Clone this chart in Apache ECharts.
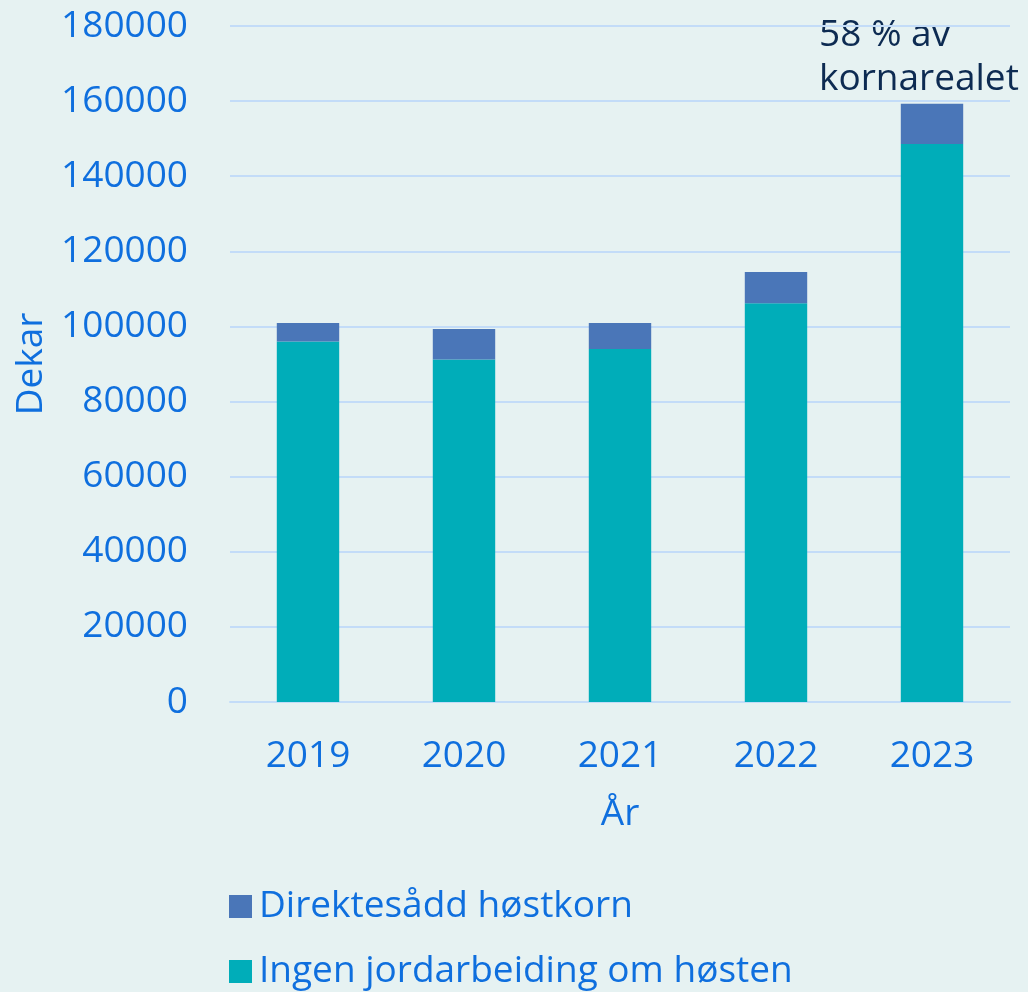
<!DOCTYPE html>
<html>
<head>
<meta charset="utf-8">
<script src="https://cdn.jsdelivr.net/npm/echarts@6/dist/echarts.min.js"></script>
<style>
  html, body { margin: 0; padding: 0; background: #e6f2f2; }
  #chart { width: 1028px; height: 992px; }
</style>
</head>
<body>
<div id="chart"></div>
<script>
  // år og verdier (dekar), lest av figuren
  var years = ['2019', '2020', '2021', '2022', '2023'];
  var ingenJord = [96000, 91200, 94000, 106200, 148600];
  var direkte = [4900, 8100, 6900, 8300, 10700];
  var yTicks = { min: 0, max: 180000, step: 20000 };

  var blue = '#0f6fde';
  var font = '"Open Sans", "Noto Sans", sans-serif';
  var fs = 37;

  // felles stil for de to legenderadene
  function legendRow(name, top) {
    return {
      orient: 'vertical',
      left: 224,
      top: top,
      itemWidth: 23,
      itemHeight: 23,
      icon: 'rect',
      data: [name],
      textStyle: { color: blue, fontSize: fs, fontFamily: font, padding: [0, 0, 0, 2] }
    };
  }

  var myChart = echarts.init(document.getElementById('chart'));
  myChart.setOption({
    backgroundColor: '#e6f2f2',
    textStyle: { fontFamily: font },
    grid: { left: 230, right: 18, top: 26, bottom: 290 },
    legend: [
      legendRow('Direktesådd høstkorn', 883),
      legendRow('Ingen jordarbeiding om høsten', 948)
    ],
    xAxis: {
      type: 'category',
      data: years,
      name: 'År',
      nameLocation: 'middle',
      nameGap: 94,
      nameTextStyle: { color: blue, fontSize: fs, fontFamily: font },
      axisLine: { lineStyle: { color: '#c3dcf8', width: 2 } },
      axisTick: { show: false },
      axisLabel: { color: blue, fontSize: fs, margin: 36, fontFamily: font }
    },
    yAxis: {
      type: 'value',
      min: yTicks.min,
      max: yTicks.max,
      interval: yTicks.step,
      name: 'Dekar',
      nameLocation: 'middle',
      nameGap: 177,
      nameTextStyle: { color: blue, fontSize: fs, fontFamily: font },
      axisLine: { show: false },
      axisTick: { show: false },
      axisLabel: {
        color: blue, fontSize: fs, margin: 42, fontFamily: font,
        formatter: function (v) { return String(v); }
      },
      splitLine: { lineStyle: { color: '#c3dcf8', width: 2 } }
    },
    series: [
      {
        name: 'Ingen jordarbeiding om høsten',
        type: 'bar',
        stack: 'tot',
        barWidth: '40%',
        itemStyle: { color: '#00adb9' },
        data: ingenJord
      },
      {
        name: 'Direktesådd høstkorn',
        type: 'bar',
        stack: 'tot',
        barWidth: '40%',
        itemStyle: { color: '#4a76b8' },
        data: direkte
      }
    ],
    graphic: [
      {
        type: 'text',
        left: 819,
        top: 13,
        style: {
          text: '58 % av\nkornarealet',
          fill: '#0d2b52',
          font: '37px ' + font,
          lineHeight: 44
        }
      }
    ]
  });
</script>
</body>
</html>
